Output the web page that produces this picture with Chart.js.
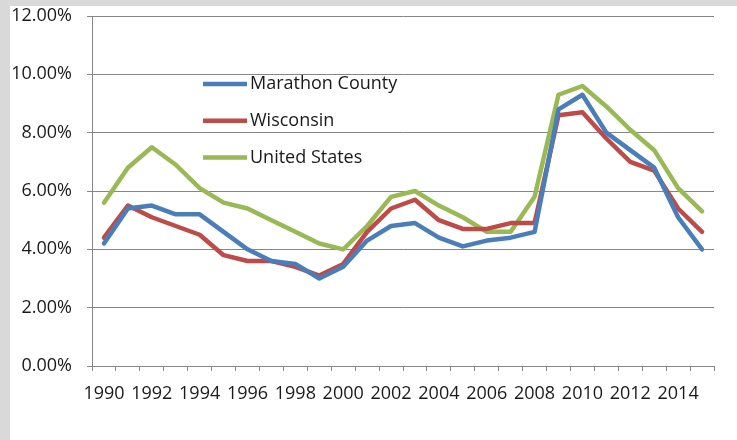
<!DOCTYPE html>
<html>
<head>
<meta charset="utf-8">
<script src="https://cdn.jsdelivr.net/npm/chart.js@4"></script>
<style>
  html, body { margin: 0; padding: 0; }
  body { width: 737px; height: 440px; background: #d9d9d9; position: relative; overflow: hidden; }
  #box { position: absolute; left: 10px; top: 6px; width: 727px; height: 434px; background: #fff; }
</style>
</head>
<body>
<div id="box"><canvas id="chart"></canvas></div>
<script>
// DATA
const years = ['1990','1991','1992','1993','1994','1995','1996','1997','1998','1999','2000','2001','2002',
               '2003','2004','2005','2006','2007','2008','2009','2010','2011','2012','2013','2014','2015'];
const marathon = [4.2, 5.4, 5.5, 5.2, 5.2, 4.6, 4.0, 3.6, 3.5, 3.0, 3.4, 4.3, 4.8,
                  4.9, 4.4, 4.1, 4.3, 4.4, 4.6, 8.8, 9.3, 8.0, 7.4, 6.8, 5.1, 4.0];
const wisconsin = [4.4, 5.5, 5.1, 4.8, 4.5, 3.8, 3.6, 3.6, 3.4, 3.1, 3.5, 4.6, 5.4,
                   5.7, 5.0, 4.7, 4.7, 4.9, 4.9, 8.6, 8.7, 7.8, 7.0, 6.7, 5.4, 4.6];
const unitedStates = [5.6, 6.8, 7.5, 6.9, 6.1, 5.6, 5.4, 5.0, 4.6, 4.2, 4.0, 4.8, 5.8,
                      6.0, 5.5, 5.1, 4.6, 4.6, 5.8, 9.3, 9.6, 8.9, 8.1, 7.4, 6.1, 5.3];
const yTicks = [0, 2, 4, 6, 8, 10, 12];

const FONT = { family: '"Open Sans", sans-serif', size: 18 };
const GRID = '#868686';

// LEGENDA DENTRO DA ÁREA DO GRÁFICO
const insideLegend = {
  id: 'insideLegend',
  afterDraw(chart) {
    const ctx = chart.ctx;
    const a = chart.chartArea;
    ctx.save();
    ctx.font = `${FONT.size}px ${FONT.family}`;
    ctx.textBaseline = 'middle';
    chart.data.datasets.forEach((ds, i) => {
      const y = a.top + 68 + i * 36.8;
      ctx.strokeStyle = ds.borderColor;
      ctx.lineWidth = 4.5;
      ctx.beginPath();
      ctx.moveTo(a.left + 111, y);
      ctx.lineTo(a.left + 155, y);
      ctx.stroke();
      ctx.fillStyle = '#1a1a1a';
      ctx.fillText(ds.label, a.left + 158, y);
    });
    ctx.restore();
  }
};

new Chart(document.getElementById('chart'), {
  type: 'line',
  data: {
    labels: years,
    datasets: [
      { label: 'Marathon County', data: marathon, borderColor: '#4a7ebb' },
      { label: 'Wisconsin', data: wisconsin, borderColor: '#be4b48' },
      { label: 'United States', data: unitedStates, borderColor: '#98b954' }
    ]
  },
  options: {
    responsive: true,
    maintainAspectRatio: false,
    animation: false,
    layout: { padding: { top: 10, right: 23, left: 0, bottom: 0 } },
    elements: {
      line: { borderWidth: 4.5, tension: 0, borderCapStyle: 'round', borderJoinStyle: 'round' },
      point: { radius: 0 }
    },
    plugins: { legend: { display: false }, tooltip: { enabled: false } },
    scales: {
      x: {
        offset: true,
        afterFit: s => { s.height = 74; s.paddingLeft = 0; s.paddingRight = 0; },
        grid: { offset: true, drawOnChartArea: false, drawTicks: true, tickLength: 5, color: GRID },
        border: { color: GRID, width: 1 },
        ticks: {
          autoSkip: false,
          maxRotation: 0,
          padding: 12,
          color: '#1a1a1a',
          font: FONT,
          callback: (v, i) => (i % 2 === 0 ? years[i] : '')
        }
      },
      y: {
        min: yTicks[0],
        max: yTicks[yTicks.length - 1],
        afterFit: s => { s.width = 82; s.paddingTop = 0; s.paddingBottom = 0; },
        afterBuildTicks: s => { s.ticks = yTicks.map(v => ({ value: v })); },
        grid: { color: GRID, lineWidth: 1, tickLength: 5 },
        border: { color: GRID, width: 1 },
        ticks: {
          padding: 15,
          color: '#1a1a1a',
          font: FONT,
          callback: v => v.toFixed(2) + '%'
        }
      }
    }
  },
  plugins: [insideLegend]
});
</script>
</body>
</html>
